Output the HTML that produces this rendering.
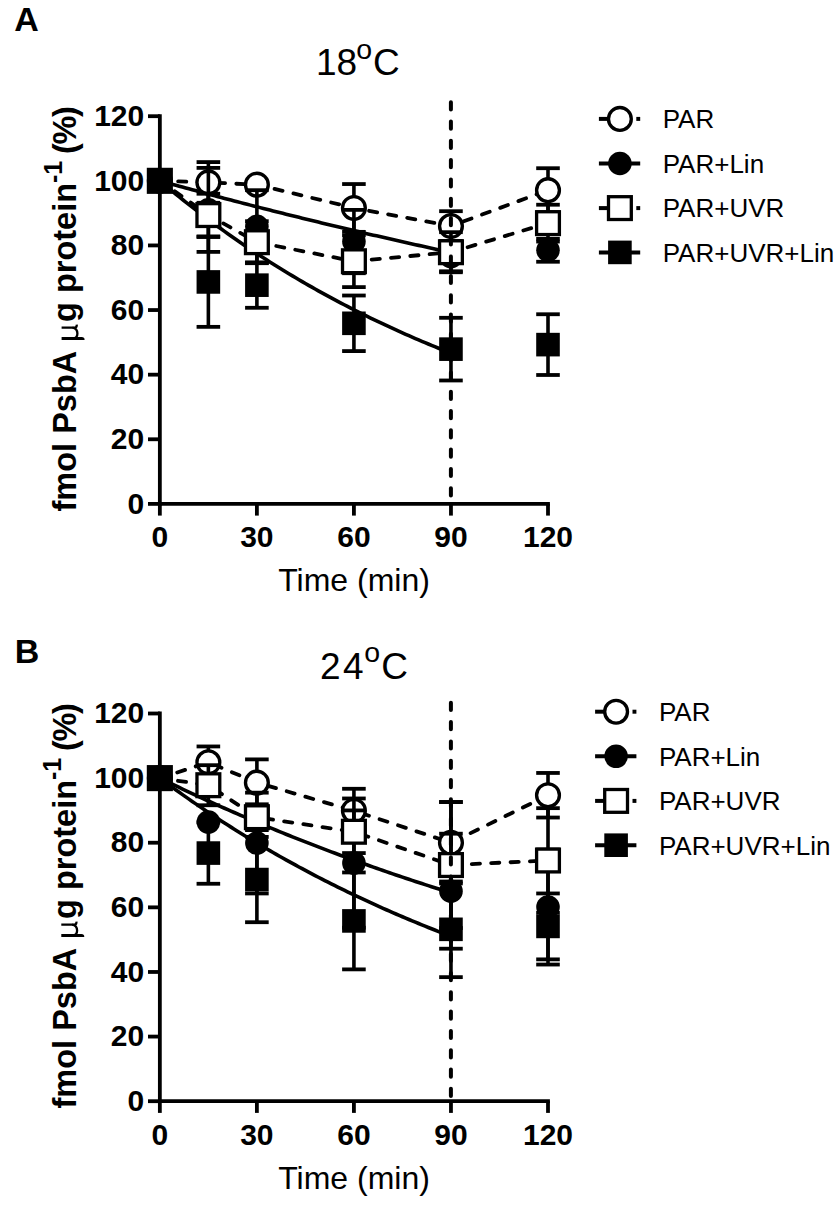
<!DOCTYPE html>
<html><head><meta charset="utf-8"><style>
body{margin:0;background:#fff;overflow:hidden}
svg{display:block}
text{font-family:"Liberation Sans",sans-serif;fill:#000}
.tk{font-weight:bold;font-size:30px}
.pl{font-weight:bold;font-size:34px}
.ti{font-size:37px}
.deg{font-size:28.5px}
.lg{font-size:26px}
.xl{font-size:32px}
.yl{font-weight:bold;font-size:32.5px}
.mu{font-family:"Liberation Serif",serif;font-weight:normal;font-size:36px}
.pc{letter-spacing:-1.3px}
.sup{font-weight:bold;font-size:25px}
</style></head>
<body><svg width="839" height="1206" viewBox="0 0 839 1206">
<rect x="0" y="0" width="839" height="1206" fill="#fff"/>
<text x="14.3" y="30.5" class="pl">A</text>
<text x="316" y="74.9" class="ti">18</text><text x="356.3" y="58.6" class="deg">o</text><text x="373" y="74.9" class="ti">C</text>
<line x1="159.85" y1="114.29999999999998" x2="159.85" y2="505.79999999999995" stroke="#000" stroke-width="3.8"/>
<line x1="148.0" y1="503.90" x2="159.85" y2="503.90" stroke="#000" stroke-width="3.8"/>
<text x="144.2" y="513.60" class="tk" text-anchor="end">0</text>
<line x1="148.0" y1="439.28" x2="159.85" y2="439.28" stroke="#000" stroke-width="3.8"/>
<text x="144.2" y="448.98" class="tk" text-anchor="end">20</text>
<line x1="148.0" y1="374.67" x2="159.85" y2="374.67" stroke="#000" stroke-width="3.8"/>
<text x="144.2" y="384.37" class="tk" text-anchor="end">40</text>
<line x1="148.0" y1="310.05" x2="159.85" y2="310.05" stroke="#000" stroke-width="3.8"/>
<text x="144.2" y="319.75" class="tk" text-anchor="end">60</text>
<line x1="148.0" y1="245.43" x2="159.85" y2="245.43" stroke="#000" stroke-width="3.8"/>
<text x="144.2" y="255.13" class="tk" text-anchor="end">80</text>
<line x1="148.0" y1="180.82" x2="159.85" y2="180.82" stroke="#000" stroke-width="3.8"/>
<text x="144.2" y="190.52" class="tk" text-anchor="end">100</text>
<line x1="148.0" y1="116.20" x2="159.85" y2="116.20" stroke="#000" stroke-width="3.8"/>
<text x="144.2" y="125.90" class="tk" text-anchor="end">120</text>
<line x1="159.85" y1="503.9" x2="549.9" y2="503.9" stroke="#000" stroke-width="3.8"/>
<line x1="159.85" y1="503.9" x2="159.85" y2="515.6" stroke="#000" stroke-width="3.8"/>
<text x="159.85" y="547.30" class="tk" text-anchor="middle">0</text>
<line x1="256.89" y1="503.9" x2="256.89" y2="515.6" stroke="#000" stroke-width="3.8"/>
<text x="256.89" y="547.30" class="tk" text-anchor="middle">30</text>
<line x1="353.92" y1="503.9" x2="353.92" y2="515.6" stroke="#000" stroke-width="3.8"/>
<text x="353.92" y="547.30" class="tk" text-anchor="middle">60</text>
<line x1="450.96" y1="503.9" x2="450.96" y2="515.6" stroke="#000" stroke-width="3.8"/>
<text x="450.96" y="547.30" class="tk" text-anchor="middle">90</text>
<line x1="548.00" y1="503.9" x2="548.00" y2="515.6" stroke="#000" stroke-width="3.8"/>
<text x="548.00" y="547.30" class="tk" text-anchor="middle">120</text>
<text x="354" y="591.20" class="xl" text-anchor="middle">Time (min)</text>
<text transform="translate(76.1,511.50) rotate(-90)" class="yl">fmol PsbA</text>
<g transform="translate(76.50,340.30) rotate(-90)" fill="none" stroke="#000" stroke-linecap="butt"><path d="M1.7,-14.9 L1.7,5.2 Q1.7,6.6 0.4,6.6" stroke-width="3"/><path d="M1.8,-3.2 C2.2,0.2 4.5,0.9 6.8,0.9 C9.5,0.9 12.1,-0.8 12.75,-4" stroke-width="2.3"/><path d="M12.75,-14.9 L12.75,-1.8 Q12.9,0.6 15.6,0.2" stroke-width="2.3"/></g>
<text transform="translate(76.1,322.00) rotate(-90)" class="yl">g protein</text>
<text transform="translate(61.599999999999994,183.00) rotate(-90)" class="sup">-1</text>
<text transform="translate(76.1,154.00) rotate(-90)" class="yl pc">(%)</text>
<path d="M159.85,180.82 L163.08,181.72 L166.32,182.62 L169.55,183.52 L172.79,184.41 L176.02,185.30 L179.26,186.19 L182.49,187.08 L185.73,187.97 L188.96,188.85 L192.20,189.73 L195.43,190.61 L198.66,191.48 L201.90,192.35 L205.13,193.22 L208.37,194.09 L211.60,194.95 L214.84,195.81 L218.07,196.67 L221.31,197.53 L224.54,198.39 L227.78,199.24 L231.01,200.09 L234.25,200.93 L237.48,201.78 L240.71,202.62 L243.95,203.46 L247.18,204.30 L250.42,205.13 L253.65,205.96 L256.89,206.79 L260.12,207.62 L263.36,208.45 L266.59,209.27 L269.83,210.09 L273.06,210.91 L276.29,211.72 L279.53,212.54 L282.76,213.35 L286.00,214.16 L289.23,214.96 L292.47,215.77 L295.70,216.57 L298.94,217.37 L302.17,218.17 L305.41,218.96 L308.64,219.75 L311.88,220.54 L315.11,221.33 L318.34,222.12 L321.58,222.90 L324.81,223.68 L328.05,224.46 L331.28,225.24 L334.52,226.01 L337.75,226.78 L340.99,227.55 L344.22,228.32 L347.46,229.08 L350.69,229.85 L353.92,230.61 L357.16,231.37 L360.39,232.12 L363.63,232.88 L366.86,233.63 L370.10,234.38 L373.33,235.13 L376.57,235.87 L379.80,236.62 L383.04,237.36 L386.27,238.10 L389.51,238.83 L392.74,239.57 L395.97,240.30 L399.21,241.03 L402.44,241.76 L405.68,242.49 L408.91,243.21 L412.15,243.93 L415.38,244.65 L418.62,245.37 L421.85,246.09 L425.09,246.80 L428.32,247.51 L431.55,248.22 L434.79,248.93 L438.02,249.64 L441.26,250.34 L444.49,251.04 L447.73,251.74 L450.96,252.44" fill="none" stroke="#000" stroke-width="3.6"/>
<path d="M159.85,180.82 L163.08,183.56 L166.32,186.27 L169.55,188.96 L172.79,191.63 L176.02,194.28 L179.26,196.90 L182.49,199.50 L185.73,202.08 L188.96,204.64 L192.20,207.17 L195.43,209.69 L198.66,212.18 L201.90,214.65 L205.13,217.10 L208.37,219.53 L211.60,221.93 L214.84,224.32 L218.07,226.69 L221.31,229.03 L224.54,231.36 L227.78,233.67 L231.01,235.95 L234.25,238.22 L237.48,240.47 L240.71,242.69 L243.95,244.90 L247.18,247.09 L250.42,249.27 L253.65,251.42 L256.89,253.55 L260.12,255.67 L263.36,257.77 L266.59,259.85 L269.83,261.91 L273.06,263.95 L276.29,265.98 L279.53,267.99 L282.76,269.98 L286.00,271.96 L289.23,273.92 L292.47,275.86 L295.70,277.78 L298.94,279.69 L302.17,281.58 L305.41,283.46 L308.64,285.32 L311.88,287.16 L315.11,288.99 L318.34,290.81 L321.58,292.60 L324.81,294.38 L328.05,296.15 L331.28,297.90 L334.52,299.64 L337.75,301.36 L340.99,303.07 L344.22,304.76 L347.46,306.44 L350.69,308.10 L353.92,309.75 L357.16,311.38 L360.39,313.00 L363.63,314.61 L366.86,316.20 L370.10,317.78 L373.33,319.35 L376.57,320.90 L379.80,322.44 L383.04,323.97 L386.27,325.48 L389.51,326.98 L392.74,328.47 L395.97,329.94 L399.21,331.41 L402.44,332.85 L405.68,334.29 L408.91,335.72 L412.15,337.13 L415.38,338.53 L418.62,339.92 L421.85,341.29 L425.09,342.66 L428.32,344.01 L431.55,345.35 L434.79,346.68 L438.02,348.00 L441.26,349.31 L444.49,350.61 L447.73,351.89 L450.96,353.16" fill="none" stroke="#000" stroke-width="3.6"/>
<path d="M159.85,180.82 L208.37,182.43 L256.89,184.69 L353.92,207.96 L450.96,226.05 L548.00,190.19" fill="none" stroke="#000" stroke-width="3.8" stroke-dasharray="8.2 11.2" stroke-linecap="round" stroke-dashoffset="1.1"/>
<line x1="208.37" y1="162.08" x2="208.37" y2="202.79" stroke="#000" stroke-width="3.6"/>
<line x1="196.57" y1="162.08" x2="220.17" y2="162.08" stroke="#000" stroke-width="3.8"/>
<line x1="196.57" y1="202.79" x2="220.17" y2="202.79" stroke="#000" stroke-width="3.8"/>
<line x1="353.92" y1="184.05" x2="353.92" y2="231.86" stroke="#000" stroke-width="3.6"/>
<line x1="342.12" y1="184.05" x2="365.72" y2="184.05" stroke="#000" stroke-width="3.8"/>
<line x1="342.12" y1="231.86" x2="365.72" y2="231.86" stroke="#000" stroke-width="3.8"/>
<line x1="450.96" y1="211.19" x2="450.96" y2="240.91" stroke="#000" stroke-width="3.6"/>
<line x1="439.16" y1="211.19" x2="462.76" y2="211.19" stroke="#000" stroke-width="3.8"/>
<line x1="439.16" y1="240.91" x2="462.76" y2="240.91" stroke="#000" stroke-width="3.8"/>
<line x1="548.00" y1="168.22" x2="548.00" y2="212.16" stroke="#000" stroke-width="3.6"/>
<line x1="536.20" y1="168.22" x2="559.80" y2="168.22" stroke="#000" stroke-width="3.8"/>
<line x1="536.20" y1="212.16" x2="559.80" y2="212.16" stroke="#000" stroke-width="3.8"/>
<circle cx="159.85" cy="180.82" r="11.4" fill="#fff" stroke="#000" stroke-width="3.35"/>
<circle cx="208.37" cy="182.43" r="11.4" fill="#fff" stroke="#000" stroke-width="3.35"/>
<circle cx="256.89" cy="184.69" r="11.4" fill="#fff" stroke="#000" stroke-width="3.35"/>
<circle cx="353.92" cy="207.96" r="11.4" fill="#fff" stroke="#000" stroke-width="3.35"/>
<circle cx="450.96" cy="226.05" r="11.4" fill="#fff" stroke="#000" stroke-width="3.35"/>
<circle cx="548.00" cy="190.19" r="11.4" fill="#fff" stroke="#000" stroke-width="3.35"/>
<line x1="208.37" y1="167.89" x2="208.37" y2="251.89" stroke="#000" stroke-width="3.6"/>
<line x1="196.57" y1="167.89" x2="220.17" y2="167.89" stroke="#000" stroke-width="3.8"/>
<line x1="196.57" y1="251.89" x2="220.17" y2="251.89" stroke="#000" stroke-width="3.8"/>
<line x1="256.89" y1="190.19" x2="256.89" y2="262.56" stroke="#000" stroke-width="3.6"/>
<line x1="245.09" y1="190.19" x2="268.69" y2="190.19" stroke="#000" stroke-width="3.8"/>
<line x1="245.09" y1="262.56" x2="268.69" y2="262.56" stroke="#000" stroke-width="3.8"/>
<line x1="353.92" y1="209.89" x2="353.92" y2="273.22" stroke="#000" stroke-width="3.6"/>
<line x1="342.12" y1="209.89" x2="365.72" y2="209.89" stroke="#000" stroke-width="3.8"/>
<line x1="342.12" y1="273.22" x2="365.72" y2="273.22" stroke="#000" stroke-width="3.8"/>
<line x1="450.96" y1="242.20" x2="450.96" y2="271.28" stroke="#000" stroke-width="3.6"/>
<line x1="439.16" y1="242.20" x2="462.76" y2="242.20" stroke="#000" stroke-width="3.8"/>
<line x1="439.16" y1="271.28" x2="462.76" y2="271.28" stroke="#000" stroke-width="3.8"/>
<line x1="548.00" y1="238.81" x2="548.00" y2="261.75" stroke="#000" stroke-width="3.6"/>
<line x1="536.20" y1="238.81" x2="559.80" y2="238.81" stroke="#000" stroke-width="3.8"/>
<line x1="536.20" y1="261.75" x2="559.80" y2="261.75" stroke="#000" stroke-width="3.8"/>
<circle cx="159.85" cy="180.82" r="11.8" fill="#000"/>
<circle cx="208.37" cy="209.89" r="11.8" fill="#000"/>
<circle cx="256.89" cy="226.37" r="11.8" fill="#000"/>
<circle cx="353.92" cy="241.56" r="11.8" fill="#000"/>
<circle cx="450.96" cy="256.74" r="11.8" fill="#000"/>
<circle cx="548.00" cy="250.28" r="11.8" fill="#000"/>
<path d="M159.85,180.82 L208.37,215.06 L256.89,242.20 L353.92,261.26 L450.96,252.22 L548.00,223.14" fill="none" stroke="#000" stroke-width="3.8" stroke-dasharray="8.2 11.2" stroke-linecap="round" stroke-dashoffset="1.1"/>
<line x1="208.37" y1="193.74" x2="208.37" y2="236.39" stroke="#000" stroke-width="3.6"/>
<line x1="196.57" y1="193.74" x2="220.17" y2="193.74" stroke="#000" stroke-width="3.8"/>
<line x1="196.57" y1="236.39" x2="220.17" y2="236.39" stroke="#000" stroke-width="3.8"/>
<line x1="256.89" y1="221.20" x2="256.89" y2="263.20" stroke="#000" stroke-width="3.6"/>
<line x1="245.09" y1="221.20" x2="268.69" y2="221.20" stroke="#000" stroke-width="3.8"/>
<line x1="245.09" y1="263.20" x2="268.69" y2="263.20" stroke="#000" stroke-width="3.8"/>
<line x1="353.92" y1="235.42" x2="353.92" y2="287.11" stroke="#000" stroke-width="3.6"/>
<line x1="342.12" y1="235.42" x2="365.72" y2="235.42" stroke="#000" stroke-width="3.8"/>
<line x1="342.12" y1="287.11" x2="365.72" y2="287.11" stroke="#000" stroke-width="3.8"/>
<line x1="450.96" y1="232.19" x2="450.96" y2="272.25" stroke="#000" stroke-width="3.6"/>
<line x1="439.16" y1="232.19" x2="462.76" y2="232.19" stroke="#000" stroke-width="3.8"/>
<line x1="439.16" y1="272.25" x2="462.76" y2="272.25" stroke="#000" stroke-width="3.8"/>
<line x1="548.00" y1="204.72" x2="548.00" y2="241.56" stroke="#000" stroke-width="3.6"/>
<line x1="536.20" y1="204.72" x2="559.80" y2="204.72" stroke="#000" stroke-width="3.8"/>
<line x1="536.20" y1="241.56" x2="559.80" y2="241.56" stroke="#000" stroke-width="3.8"/>
<rect x="148.45" y="169.42" width="22.8" height="22.8" fill="#fff" stroke="#000" stroke-width="3.3"/>
<rect x="196.97" y="203.66" width="22.8" height="22.8" fill="#fff" stroke="#000" stroke-width="3.3"/>
<rect x="245.49" y="230.80" width="22.8" height="22.8" fill="#fff" stroke="#000" stroke-width="3.3"/>
<rect x="342.52" y="249.86" width="22.8" height="22.8" fill="#fff" stroke="#000" stroke-width="3.3"/>
<rect x="439.56" y="240.82" width="22.8" height="22.8" fill="#fff" stroke="#000" stroke-width="3.3"/>
<rect x="536.60" y="211.74" width="22.8" height="22.8" fill="#fff" stroke="#000" stroke-width="3.3"/>
<line x1="208.37" y1="237.03" x2="208.37" y2="326.85" stroke="#000" stroke-width="3.6"/>
<line x1="196.57" y1="237.03" x2="220.17" y2="237.03" stroke="#000" stroke-width="3.8"/>
<line x1="196.57" y1="326.85" x2="220.17" y2="326.85" stroke="#000" stroke-width="3.8"/>
<line x1="256.89" y1="262.56" x2="256.89" y2="307.79" stroke="#000" stroke-width="3.6"/>
<line x1="245.09" y1="262.56" x2="268.69" y2="262.56" stroke="#000" stroke-width="3.8"/>
<line x1="245.09" y1="307.79" x2="268.69" y2="307.79" stroke="#000" stroke-width="3.8"/>
<line x1="353.92" y1="295.51" x2="353.92" y2="351.08" stroke="#000" stroke-width="3.6"/>
<line x1="342.12" y1="295.51" x2="365.72" y2="295.51" stroke="#000" stroke-width="3.8"/>
<line x1="342.12" y1="351.08" x2="365.72" y2="351.08" stroke="#000" stroke-width="3.8"/>
<line x1="450.96" y1="317.80" x2="450.96" y2="380.48" stroke="#000" stroke-width="3.6"/>
<line x1="439.16" y1="317.80" x2="462.76" y2="317.80" stroke="#000" stroke-width="3.8"/>
<line x1="439.16" y1="380.48" x2="462.76" y2="380.48" stroke="#000" stroke-width="3.8"/>
<line x1="548.00" y1="314.25" x2="548.00" y2="374.99" stroke="#000" stroke-width="3.6"/>
<line x1="536.20" y1="314.25" x2="559.80" y2="314.25" stroke="#000" stroke-width="3.8"/>
<line x1="536.20" y1="374.99" x2="559.80" y2="374.99" stroke="#000" stroke-width="3.8"/>
<rect x="148.05" y="169.02" width="23.6" height="23.6" fill="#000"/>
<rect x="196.57" y="270.14" width="23.6" height="23.6" fill="#000"/>
<rect x="245.09" y="273.37" width="23.6" height="23.6" fill="#000"/>
<rect x="342.12" y="311.50" width="23.6" height="23.6" fill="#000"/>
<rect x="439.16" y="337.34" width="23.6" height="23.6" fill="#000"/>
<rect x="536.20" y="332.82" width="23.6" height="23.6" fill="#000"/>
<line x1="450.9" y1="102.2" x2="450.9" y2="502" stroke="#000" stroke-width="4" stroke-dasharray="7.2 12.1" stroke-linecap="round"/>
<line x1="598.9" y1="118.9" x2="610" y2="118.9" stroke="#000" stroke-width="4"/>
<line x1="636.3" y1="118.9" x2="640.2" y2="118.9" stroke="#000" stroke-width="4"/>
<circle cx="619.90" cy="118.90" r="11.4" fill="#fff" stroke="#000" stroke-width="3.35"/>
<text x="662.7" y="128.20000000000002" class="lg">PAR</text>
<line x1="598.9" y1="163.5" x2="640.2" y2="163.5" stroke="#000" stroke-width="4"/>
<circle cx="619.90" cy="163.50" r="11.8" fill="#000"/>
<text x="662.7" y="172.8" class="lg">PAR+Lin</text>
<line x1="598.9" y1="208.1" x2="610" y2="208.1" stroke="#000" stroke-width="4"/>
<line x1="636.3" y1="208.1" x2="640.2" y2="208.1" stroke="#000" stroke-width="4"/>
<rect x="608.50" y="196.70" width="22.8" height="22.8" fill="#fff" stroke="#000" stroke-width="3.3"/>
<text x="662.7" y="217.4" class="lg">PAR+UVR</text>
<line x1="598.9" y1="252.4" x2="640.2" y2="252.4" stroke="#000" stroke-width="4"/>
<rect x="608.10" y="240.60" width="23.6" height="23.6" fill="#000"/>
<text x="662.7" y="261.7" class="lg">PAR+UVR+Lin</text>
<text x="14.8" y="662.8" class="pl">B</text>
<text x="320" y="678.7" class="ti">2</text><text x="343.1" y="678.7" class="ti">4</text><text x="364.3" y="661.8" class="deg">o</text><text x="381.2" y="678.7" class="ti">C</text>
<line x1="159.85" y1="711.6" x2="159.85" y2="1103.1000000000001" stroke="#000" stroke-width="3.8"/>
<line x1="148.0" y1="1101.20" x2="159.85" y2="1101.20" stroke="#000" stroke-width="3.8"/>
<text x="144.2" y="1110.90" class="tk" text-anchor="end">0</text>
<line x1="148.0" y1="1036.58" x2="159.85" y2="1036.58" stroke="#000" stroke-width="3.8"/>
<text x="144.2" y="1046.28" class="tk" text-anchor="end">20</text>
<line x1="148.0" y1="971.97" x2="159.85" y2="971.97" stroke="#000" stroke-width="3.8"/>
<text x="144.2" y="981.67" class="tk" text-anchor="end">40</text>
<line x1="148.0" y1="907.35" x2="159.85" y2="907.35" stroke="#000" stroke-width="3.8"/>
<text x="144.2" y="917.05" class="tk" text-anchor="end">60</text>
<line x1="148.0" y1="842.73" x2="159.85" y2="842.73" stroke="#000" stroke-width="3.8"/>
<text x="144.2" y="852.43" class="tk" text-anchor="end">80</text>
<line x1="148.0" y1="778.12" x2="159.85" y2="778.12" stroke="#000" stroke-width="3.8"/>
<text x="144.2" y="787.82" class="tk" text-anchor="end">100</text>
<line x1="148.0" y1="713.50" x2="159.85" y2="713.50" stroke="#000" stroke-width="3.8"/>
<text x="144.2" y="723.20" class="tk" text-anchor="end">120</text>
<line x1="159.85" y1="1101.2" x2="549.9" y2="1101.2" stroke="#000" stroke-width="3.8"/>
<line x1="159.85" y1="1101.2" x2="159.85" y2="1112.9" stroke="#000" stroke-width="3.8"/>
<text x="159.85" y="1144.60" class="tk" text-anchor="middle">0</text>
<line x1="256.89" y1="1101.2" x2="256.89" y2="1112.9" stroke="#000" stroke-width="3.8"/>
<text x="256.89" y="1144.60" class="tk" text-anchor="middle">30</text>
<line x1="353.92" y1="1101.2" x2="353.92" y2="1112.9" stroke="#000" stroke-width="3.8"/>
<text x="353.92" y="1144.60" class="tk" text-anchor="middle">60</text>
<line x1="450.96" y1="1101.2" x2="450.96" y2="1112.9" stroke="#000" stroke-width="3.8"/>
<text x="450.96" y="1144.60" class="tk" text-anchor="middle">90</text>
<line x1="548.00" y1="1101.2" x2="548.00" y2="1112.9" stroke="#000" stroke-width="3.8"/>
<text x="548.00" y="1144.60" class="tk" text-anchor="middle">120</text>
<text x="354" y="1188.50" class="xl" text-anchor="middle">Time (min)</text>
<text transform="translate(75.8,1108.50) rotate(-90)" class="yl">fmol PsbA</text>
<g transform="translate(76.20,937.30) rotate(-90)" fill="none" stroke="#000" stroke-linecap="butt"><path d="M1.7,-14.9 L1.7,5.2 Q1.7,6.6 0.4,6.6" stroke-width="3"/><path d="M1.8,-3.2 C2.2,0.2 4.5,0.9 6.8,0.9 C9.5,0.9 12.1,-0.8 12.75,-4" stroke-width="2.3"/><path d="M12.75,-14.9 L12.75,-1.8 Q12.9,0.6 15.6,0.2" stroke-width="2.3"/></g>
<text transform="translate(75.8,919.00) rotate(-90)" class="yl">g protein</text>
<text transform="translate(61.3,780.00) rotate(-90)" class="sup">-1</text>
<text transform="translate(75.8,751.00) rotate(-90)" class="yl pc">(%)</text>
<path d="M159.85,778.12 L163.08,779.70 L166.32,781.27 L169.55,782.83 L172.79,784.39 L176.02,785.93 L179.26,787.47 L182.49,789.01 L185.73,790.53 L188.96,792.05 L192.20,793.56 L195.43,795.06 L198.66,796.56 L201.90,798.04 L205.13,799.52 L208.37,800.99 L211.60,802.46 L214.84,803.92 L218.07,805.37 L221.31,806.81 L224.54,808.25 L227.78,809.68 L231.01,811.10 L234.25,812.51 L237.48,813.92 L240.71,815.32 L243.95,816.71 L247.18,818.10 L250.42,819.48 L253.65,820.85 L256.89,822.22 L260.12,823.58 L263.36,824.93 L266.59,826.28 L269.83,827.62 L273.06,828.95 L276.29,830.27 L279.53,831.59 L282.76,832.91 L286.00,834.21 L289.23,835.51 L292.47,836.80 L295.70,838.09 L298.94,839.37 L302.17,840.64 L305.41,841.91 L308.64,843.17 L311.88,844.43 L315.11,845.67 L318.34,846.92 L321.58,848.15 L324.81,849.38 L328.05,850.61 L331.28,851.82 L334.52,853.04 L337.75,854.24 L340.99,855.44 L344.22,856.63 L347.46,857.82 L350.69,859.00 L353.92,860.18 L357.16,861.35 L360.39,862.51 L363.63,863.67 L366.86,864.82 L370.10,865.97 L373.33,867.11 L376.57,868.25 L379.80,869.38 L383.04,870.50 L386.27,871.62 L389.51,872.73 L392.74,873.84 L395.97,874.94 L399.21,876.04 L402.44,877.13 L405.68,878.21 L408.91,879.29 L412.15,880.37 L415.38,881.44 L418.62,882.50 L421.85,883.56 L425.09,884.61 L428.32,885.66 L431.55,886.70 L434.79,887.74 L438.02,888.77 L441.26,889.80 L444.49,890.82 L447.73,891.84 L450.96,892.85" fill="none" stroke="#000" stroke-width="3.6"/>
<path d="M159.85,778.12 L163.08,780.52 L166.32,782.91 L169.55,785.29 L172.79,787.64 L176.02,789.98 L179.26,792.30 L182.49,794.60 L185.73,796.88 L188.96,799.15 L192.20,801.40 L195.43,803.64 L198.66,805.85 L201.90,808.06 L205.13,810.24 L208.37,812.41 L211.60,814.56 L214.84,816.70 L218.07,818.81 L221.31,820.92 L224.54,823.01 L227.78,825.08 L231.01,827.14 L234.25,829.18 L237.48,831.21 L240.71,833.22 L243.95,835.21 L247.18,837.19 L250.42,839.16 L253.65,841.11 L256.89,843.05 L260.12,844.97 L263.36,846.88 L266.59,848.78 L269.83,850.66 L273.06,852.52 L276.29,854.37 L279.53,856.21 L282.76,858.04 L286.00,859.85 L289.23,861.64 L292.47,863.43 L295.70,865.20 L298.94,866.96 L302.17,868.70 L305.41,870.43 L308.64,872.15 L311.88,873.86 L315.11,875.55 L318.34,877.23 L321.58,878.90 L324.81,880.55 L328.05,882.19 L331.28,883.82 L334.52,885.44 L337.75,887.05 L340.99,888.64 L344.22,890.22 L347.46,891.79 L350.69,893.35 L353.92,894.90 L357.16,896.44 L360.39,897.96 L363.63,899.47 L366.86,900.97 L370.10,902.46 L373.33,903.94 L376.57,905.41 L379.80,906.87 L383.04,908.31 L386.27,909.75 L389.51,911.17 L392.74,912.59 L395.97,913.99 L399.21,915.38 L402.44,916.77 L405.68,918.14 L408.91,919.50 L412.15,920.85 L415.38,922.19 L418.62,923.52 L421.85,924.85 L425.09,926.16 L428.32,927.46 L431.55,928.75 L434.79,930.03 L438.02,931.31 L441.26,932.57 L444.49,933.82 L447.73,935.07 L450.96,936.30" fill="none" stroke="#000" stroke-width="3.6"/>
<path d="M159.85,778.12 L208.37,762.29 L256.89,782.64 L353.92,810.75 L450.96,842.73 L548.00,795.24" fill="none" stroke="#000" stroke-width="3.8" stroke-dasharray="8.2 11.2" stroke-linecap="round" stroke-dashoffset="1.1"/>
<line x1="208.37" y1="746.45" x2="208.37" y2="778.12" stroke="#000" stroke-width="3.6"/>
<line x1="196.57" y1="746.45" x2="220.17" y2="746.45" stroke="#000" stroke-width="3.8"/>
<line x1="196.57" y1="778.12" x2="220.17" y2="778.12" stroke="#000" stroke-width="3.8"/>
<line x1="256.89" y1="759.38" x2="256.89" y2="805.90" stroke="#000" stroke-width="3.6"/>
<line x1="245.09" y1="759.38" x2="268.69" y2="759.38" stroke="#000" stroke-width="3.8"/>
<line x1="245.09" y1="805.90" x2="268.69" y2="805.90" stroke="#000" stroke-width="3.8"/>
<line x1="353.92" y1="788.78" x2="353.92" y2="832.72" stroke="#000" stroke-width="3.6"/>
<line x1="342.12" y1="788.78" x2="365.72" y2="788.78" stroke="#000" stroke-width="3.8"/>
<line x1="342.12" y1="832.72" x2="365.72" y2="832.72" stroke="#000" stroke-width="3.8"/>
<line x1="450.96" y1="802.02" x2="450.96" y2="883.44" stroke="#000" stroke-width="3.6"/>
<line x1="439.16" y1="802.02" x2="462.76" y2="802.02" stroke="#000" stroke-width="3.8"/>
<line x1="439.16" y1="883.44" x2="462.76" y2="883.44" stroke="#000" stroke-width="3.8"/>
<line x1="548.00" y1="772.95" x2="548.00" y2="817.53" stroke="#000" stroke-width="3.6"/>
<line x1="536.20" y1="772.95" x2="559.80" y2="772.95" stroke="#000" stroke-width="3.8"/>
<line x1="536.20" y1="817.53" x2="559.80" y2="817.53" stroke="#000" stroke-width="3.8"/>
<circle cx="159.85" cy="778.12" r="11.4" fill="#fff" stroke="#000" stroke-width="3.35"/>
<circle cx="208.37" cy="762.29" r="11.4" fill="#fff" stroke="#000" stroke-width="3.35"/>
<circle cx="256.89" cy="782.64" r="11.4" fill="#fff" stroke="#000" stroke-width="3.35"/>
<circle cx="353.92" cy="810.75" r="11.4" fill="#fff" stroke="#000" stroke-width="3.35"/>
<circle cx="450.96" cy="842.73" r="11.4" fill="#fff" stroke="#000" stroke-width="3.35"/>
<circle cx="548.00" cy="795.24" r="11.4" fill="#fff" stroke="#000" stroke-width="3.35"/>
<line x1="256.89" y1="792.66" x2="256.89" y2="893.46" stroke="#000" stroke-width="3.6"/>
<line x1="245.09" y1="792.66" x2="268.69" y2="792.66" stroke="#000" stroke-width="3.8"/>
<line x1="245.09" y1="893.46" x2="268.69" y2="893.46" stroke="#000" stroke-width="3.8"/>
<line x1="353.92" y1="798.47" x2="353.92" y2="927.70" stroke="#000" stroke-width="3.6"/>
<line x1="342.12" y1="798.47" x2="365.72" y2="798.47" stroke="#000" stroke-width="3.8"/>
<line x1="342.12" y1="927.70" x2="365.72" y2="927.70" stroke="#000" stroke-width="3.8"/>
<line x1="450.96" y1="833.69" x2="450.96" y2="948.70" stroke="#000" stroke-width="3.6"/>
<line x1="439.16" y1="833.69" x2="462.76" y2="833.69" stroke="#000" stroke-width="3.8"/>
<line x1="439.16" y1="948.70" x2="462.76" y2="948.70" stroke="#000" stroke-width="3.8"/>
<line x1="548.00" y1="849.52" x2="548.00" y2="964.54" stroke="#000" stroke-width="3.6"/>
<line x1="536.20" y1="849.52" x2="559.80" y2="849.52" stroke="#000" stroke-width="3.8"/>
<line x1="536.20" y1="964.54" x2="559.80" y2="964.54" stroke="#000" stroke-width="3.8"/>
<circle cx="159.85" cy="778.12" r="11.8" fill="#000"/>
<circle cx="208.37" cy="822.06" r="11.8" fill="#000"/>
<circle cx="256.89" cy="843.06" r="11.8" fill="#000"/>
<circle cx="353.92" cy="863.09" r="11.8" fill="#000"/>
<circle cx="450.96" cy="891.20" r="11.8" fill="#000"/>
<circle cx="548.00" cy="907.03" r="11.8" fill="#000"/>
<path d="M159.85,778.12 L208.37,785.22 L256.89,817.21 L353.92,831.75 L450.96,865.03 L548.00,860.50" fill="none" stroke="#000" stroke-width="3.8" stroke-dasharray="8.2 11.2" stroke-linecap="round" stroke-dashoffset="1.1"/>
<line x1="208.37" y1="765.19" x2="208.37" y2="805.26" stroke="#000" stroke-width="3.6"/>
<line x1="196.57" y1="765.19" x2="220.17" y2="765.19" stroke="#000" stroke-width="3.8"/>
<line x1="196.57" y1="805.26" x2="220.17" y2="805.26" stroke="#000" stroke-width="3.8"/>
<line x1="256.89" y1="804.29" x2="256.89" y2="830.13" stroke="#000" stroke-width="3.6"/>
<line x1="245.09" y1="804.29" x2="268.69" y2="804.29" stroke="#000" stroke-width="3.8"/>
<line x1="245.09" y1="830.13" x2="268.69" y2="830.13" stroke="#000" stroke-width="3.8"/>
<line x1="353.92" y1="810.42" x2="353.92" y2="853.07" stroke="#000" stroke-width="3.6"/>
<line x1="342.12" y1="810.42" x2="365.72" y2="810.42" stroke="#000" stroke-width="3.8"/>
<line x1="342.12" y1="853.07" x2="365.72" y2="853.07" stroke="#000" stroke-width="3.8"/>
<line x1="450.96" y1="802.02" x2="450.96" y2="928.03" stroke="#000" stroke-width="3.6"/>
<line x1="439.16" y1="802.02" x2="462.76" y2="802.02" stroke="#000" stroke-width="3.8"/>
<line x1="439.16" y1="928.03" x2="462.76" y2="928.03" stroke="#000" stroke-width="3.8"/>
<line x1="548.00" y1="808.16" x2="548.00" y2="912.84" stroke="#000" stroke-width="3.6"/>
<line x1="536.20" y1="808.16" x2="559.80" y2="808.16" stroke="#000" stroke-width="3.8"/>
<line x1="536.20" y1="912.84" x2="559.80" y2="912.84" stroke="#000" stroke-width="3.8"/>
<rect x="148.45" y="766.72" width="22.8" height="22.8" fill="#fff" stroke="#000" stroke-width="3.3"/>
<rect x="196.97" y="773.82" width="22.8" height="22.8" fill="#fff" stroke="#000" stroke-width="3.3"/>
<rect x="245.49" y="805.81" width="22.8" height="22.8" fill="#fff" stroke="#000" stroke-width="3.3"/>
<rect x="342.52" y="820.35" width="22.8" height="22.8" fill="#fff" stroke="#000" stroke-width="3.3"/>
<rect x="439.56" y="853.63" width="22.8" height="22.8" fill="#fff" stroke="#000" stroke-width="3.3"/>
<rect x="536.60" y="849.10" width="22.8" height="22.8" fill="#fff" stroke="#000" stroke-width="3.3"/>
<line x1="208.37" y1="822.38" x2="208.37" y2="883.76" stroke="#000" stroke-width="3.6"/>
<line x1="196.57" y1="822.38" x2="220.17" y2="822.38" stroke="#000" stroke-width="3.8"/>
<line x1="196.57" y1="883.76" x2="220.17" y2="883.76" stroke="#000" stroke-width="3.8"/>
<line x1="256.89" y1="836.92" x2="256.89" y2="922.21" stroke="#000" stroke-width="3.6"/>
<line x1="245.09" y1="836.92" x2="268.69" y2="836.92" stroke="#000" stroke-width="3.8"/>
<line x1="245.09" y1="922.21" x2="268.69" y2="922.21" stroke="#000" stroke-width="3.8"/>
<line x1="353.92" y1="872.46" x2="353.92" y2="969.38" stroke="#000" stroke-width="3.6"/>
<line x1="342.12" y1="872.46" x2="365.72" y2="872.46" stroke="#000" stroke-width="3.8"/>
<line x1="342.12" y1="969.38" x2="365.72" y2="969.38" stroke="#000" stroke-width="3.8"/>
<line x1="450.96" y1="881.50" x2="450.96" y2="977.14" stroke="#000" stroke-width="3.6"/>
<line x1="439.16" y1="881.50" x2="462.76" y2="881.50" stroke="#000" stroke-width="3.8"/>
<line x1="439.16" y1="977.14" x2="462.76" y2="977.14" stroke="#000" stroke-width="3.8"/>
<line x1="548.00" y1="893.46" x2="548.00" y2="959.37" stroke="#000" stroke-width="3.6"/>
<line x1="536.20" y1="893.46" x2="559.80" y2="893.46" stroke="#000" stroke-width="3.8"/>
<line x1="536.20" y1="959.37" x2="559.80" y2="959.37" stroke="#000" stroke-width="3.8"/>
<rect x="148.05" y="766.32" width="23.6" height="23.6" fill="#000"/>
<rect x="196.57" y="841.27" width="23.6" height="23.6" fill="#000"/>
<rect x="245.09" y="867.76" width="23.6" height="23.6" fill="#000"/>
<rect x="342.12" y="909.12" width="23.6" height="23.6" fill="#000"/>
<rect x="439.16" y="917.52" width="23.6" height="23.6" fill="#000"/>
<rect x="536.20" y="914.61" width="23.6" height="23.6" fill="#000"/>
<line x1="450.9" y1="702.8" x2="450.9" y2="1099" stroke="#000" stroke-width="4" stroke-dasharray="7.2 12.1" stroke-linecap="round"/>
<line x1="595.1" y1="711.6999999999999" x2="606.2" y2="711.6999999999999" stroke="#000" stroke-width="4"/>
<line x1="632.5" y1="711.6999999999999" x2="636.4000000000001" y2="711.6999999999999" stroke="#000" stroke-width="4"/>
<circle cx="616.10" cy="711.70" r="11.4" fill="#fff" stroke="#000" stroke-width="3.35"/>
<text x="658.9000000000001" y="720.9999999999999" class="lg">PAR</text>
<line x1="595.1" y1="756.3" x2="636.4000000000001" y2="756.3" stroke="#000" stroke-width="4"/>
<circle cx="616.10" cy="756.30" r="11.8" fill="#000"/>
<text x="658.9000000000001" y="765.5999999999999" class="lg">PAR+Lin</text>
<line x1="595.1" y1="800.9" x2="606.2" y2="800.9" stroke="#000" stroke-width="4"/>
<line x1="632.5" y1="800.9" x2="636.4000000000001" y2="800.9" stroke="#000" stroke-width="4"/>
<rect x="604.70" y="789.50" width="22.8" height="22.8" fill="#fff" stroke="#000" stroke-width="3.3"/>
<text x="658.9000000000001" y="810.1999999999999" class="lg">PAR+UVR</text>
<line x1="595.1" y1="845.1999999999999" x2="636.4000000000001" y2="845.1999999999999" stroke="#000" stroke-width="4"/>
<rect x="604.30" y="833.40" width="23.6" height="23.6" fill="#000"/>
<text x="658.9000000000001" y="854.4999999999999" class="lg">PAR+UVR+Lin</text>
</svg></body></html>
